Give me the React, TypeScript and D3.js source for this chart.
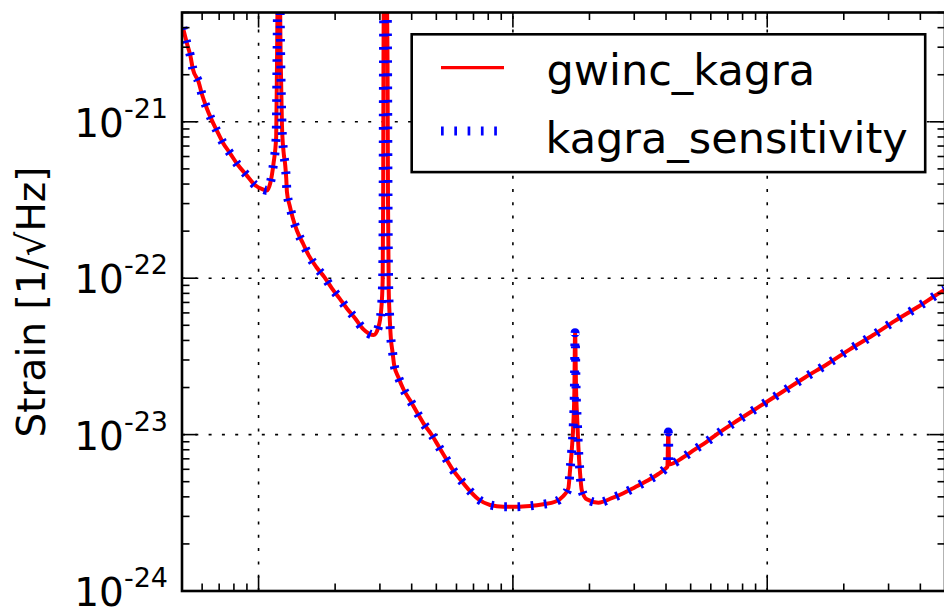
import React from "react";
import * as d3 from "d3";

// Frequency [Hz]
const freqHz = [
  5.04, 5.23, 5.39, 5.52, 5.81, 5.99, 6.23, 6.52, 6.86, 7.25, 7.74, 8.27, 8.95, 9.7,
  10.34, 10.79, 11.12, 11.45, 11.73, 11.82, 12.0, 12.22, 12.36, 12.54, 12.73, 12.85,
  12.93, 13.24, 13.65, 14.16, 14.95, 15.73, 16.86, 18.12, 19.43, 20.81, 22.25, 23.99,
  25.86, 28.31, 29.62, 30.35, 30.76, 30.9, 30.99, 31.55, 32.14, 32.28, 32.49, 32.71,
  33.13, 33.62, 34.14, 35.49, 37.13, 39.47, 41.93, 44.5, 48.0, 50.97, 54.15, 57.54,
  62.0, 66.86, 73.17, 81.35, 91.78, 103.6, 116.8, 131.8, 146.5, 157.9, 165.2, 167.8,
  170.4, 172.9, 174.5, 175.6, 177.2, 179.3, 180.9, 183.7, 186.5, 195.2, 216.8, 244.7,
  271.8, 302.1, 335.8, 373.1, 396.3, 405, 408.3, 411.5, 467.7, 519.8, 574.2, 632.7,
  769.2, 936.0, 1149, 1407, 1737, 2113, 2610, 3176, 3921, 4771, 5000,
];

// gwinc_kagra strain [1/sqrt(Hz)]
const gwincKagra = [
  4.02e-21, 3.17e-21, 2.66e-21, 2.17e-21, 1.8e-21, 1.5e-21, 1.245e-21, 1.04e-21, 8.75e-22,
  7.33e-22, 6.27e-22, 5.33e-22, 4.58e-22, 3.93e-22,
  3.71e-22, 3.64e-22, 4.06e-22, 5.42e-22, 8.0e-22, 2.48e-21, 3e-20, 2.48e-21, 9.51e-22,
  6.42e-22, 5.28e-22, 4.34e-22,
  3.56e-22, 2.93e-22, 2.41e-22, 2.01e-22, 1.67e-22, 1.405e-22, 1.18e-22, 1.02e-22,
  8.61e-23, 7.43e-23, 6.41e-23, 5.53e-23,
  4.71e-23, 4.33e-23, 4.89e-23, 6.25e-23, 9.72e-23, 3.16e-22, 2.48e-21, 1e-19, 2.48e-21,
  3.16e-22, 8.39e-23, 6.1e-23,
  4.12e-23, 3.39e-23, 2.78e-23, 2.32e-23, 1.95e-23, 1.65e-23, 1.39e-23, 1.18e-23,
  9.94e-24, 8.45e-24, 7.16e-24, 6.09e-24,
  5.18e-24, 4.47e-24, 3.86e-24, 3.55e-24, 3.46e-24, 3.46e-24, 3.5e-24, 3.59e-24, 3.72e-24,
  4.05e-24, 4.54e-24, 5.94e-24,
  7.97e-24, 1.18e-23, 1.93e-23, 4.48e-23, 1.93e-23, 1.18e-23, 8.37e-24, 5.66e-24, 4.43e-24,
  3.86e-24, 3.67e-24, 3.92e-24,
  4.22e-24, 4.61e-24, 5.05e-24, 5.6e-24, 6.03e-24, 6.25e-24, 1.04e-23, 6.45e-24, 7.16e-24,
  8.05e-24, 8.93e-24, 1.004e-23,
  1.24e-23, 1.52e-23, 1.88e-23, 2.32e-23, 2.85e-23, 3.51e-23, 4.33e-23, 5.34e-23, 6.57e-23,
  8.07e-23, 8.45e-23,
];

// kagra_sensitivity strain [1/sqrt(Hz)] (overlaps gwinc_kagra)
const kagraSensitivity = [...gwincKagra];

const seriesNames = ["gwinc_kagra", "kagra_sensitivity"];
const xMajorTicks = [10, 100, 1000];
const yTickExponents = [-24, -23, -22, -21];
const yAxisLabel = "Strain [1/\u221AHz]";

const W = 944;
const H = 607;
const FONT = "DejaVu Sans";

export default function App() {
  const x = d3.scaleLog().domain([5, 5000]).range([182, 945]);
  const y = d3.scaleLog().domain([1e-24, 5e-21]).range([591, 12.5]);
  const [x0, x1] = x.range();
  const [yb, yt] = y.range();

  const line = d3
    .line<[number, number]>()
    .x((d) => x(d[0]))
    .y((d) => y(d[1]))
    .curve(d3.curveMonotoneX);

  const gwPts = freqHz.map((f, i) => [f, gwincKagra[i]] as [number, number]);
  const ksPts = freqHz.map((f, i) => [f, kagraSensitivity[i]] as [number, number]);

  const isMajor = (v: number) => Math.abs(Math.log10(v) - Math.round(Math.log10(v))) < 1e-9;
  const xTicks = x.ticks();
  const yTicks = y.ticks();

  const majLen = 15;
  const minLen = 7.5;

  return (
    <div style={{ position: "fixed", left: 0, top: 0 }}>
      <svg width={W} height={H} style={{ display: "block", background: "#fff" }}>
        <defs>
          <clipPath id="plotclip">
            <rect x={x0} y={yt} width={x1 - x0} height={yb - yt} />
          </clipPath>
        </defs>
        <rect x={0} y={0} width={W} height={H} fill="#fff" />
        {/* grid */}
        <g stroke="#000" strokeWidth={1.6} strokeDasharray="3 10.3" fill="none">
          {xMajorTicks.map((v) => (
            <path key={"gx" + v} d={`M${x(v)},${yb}V${yt}`} />
          ))}
          {yTickExponents
            .filter((e) => e > -24)
            .map((e) => (
              <path key={"gy" + e} d={`M${x0},${y(Math.pow(10, e))}H${x1}`} />
            ))}
        </g>
        {/* curves */}
        <g clipPath="url(#plotclip)" fill="none">
          <path
            d={line(gwPts) || ""}
            stroke="#ff0000"
            strokeWidth={4}
            strokeLinejoin="round"
          />
          <path
            d={line(ksPts) || ""}
            stroke="#0000ff"
            strokeWidth={9}
            strokeDasharray="2.7 10.6"
            strokeLinecap="butt"
          />
        </g>
        {/* ticks */}
        <g stroke="#000" strokeWidth={1.6}>
          {xTicks.map((v, i) => {
            const len = isMajor(v) ? majLen : minLen;
            const xv = x(v);
            return (
              <g key={"xt" + i}>
                <line x1={xv} x2={xv} y1={yb} y2={yb - len} />
                <line x1={xv} x2={xv} y1={yt} y2={yt + len} />
              </g>
            );
          })}
          {yTicks.map((v, i) => {
            const len = isMajor(v) ? majLen : minLen;
            const yv = y(v);
            return (
              <g key={"yt" + i}>
                <line x1={x0} x2={x0 + len} y1={yv} y2={yv} />
                <line x1={x1} x2={x1 - len} y1={yv} y2={yv} />
              </g>
            );
          })}
        </g>
        {/* spines */}
        <rect
          x={x0}
          y={yt}
          width={x1 - x0}
          height={yb - yt}
          fill="none"
          stroke="#000"
          strokeWidth={2.6}
        />
        {/* y tick labels */}
        <g fontFamily={FONT} fill="#000">
          {yTickExponents.map((e) => (
            <text key={"yl" + e} x={168} y={y(Math.pow(10, e)) + 15.2} textAnchor="end" fontSize={39}>
              10
              <tspan dy={-19} fontSize={27}>
                {"-" + String(-e)}
              </tspan>
            </text>
          ))}
        </g>
        {/* y axis label */}
        <text
          transform={`translate(45, 302) rotate(-90)`}
          textAnchor="middle"
          fontFamily={FONT}
          fontSize={39}
          fill="#000"
        >
          {yAxisLabel}
        </text>
        {/* legend */}
        <g>
          <rect x={411.7} y={34.3} width={513.5} height={137.8} fill="#fff" stroke="#000" strokeWidth={2.6} />
          <line x1={441} x2={504} y1={67.7} y2={67.7} stroke="#ff0000" strokeWidth={3.3} />
          <line
            x1={441}
            x2={504}
            y1={131}
            y2={131}
            stroke="#0000ff"
            strokeWidth={9}
            strokeDasharray="2.7 10.6"
          />
          <text x={546.5} y={85} fontFamily={FONT} fontSize={43} fill="#000">
            {seriesNames[0]}
          </text>
          <text x={545.5} y={152.8} fontFamily={FONT} fontSize={43} fill="#000">
            {seriesNames[1]}
          </text>
        </g>
      </svg>
    </div>
  );
}
